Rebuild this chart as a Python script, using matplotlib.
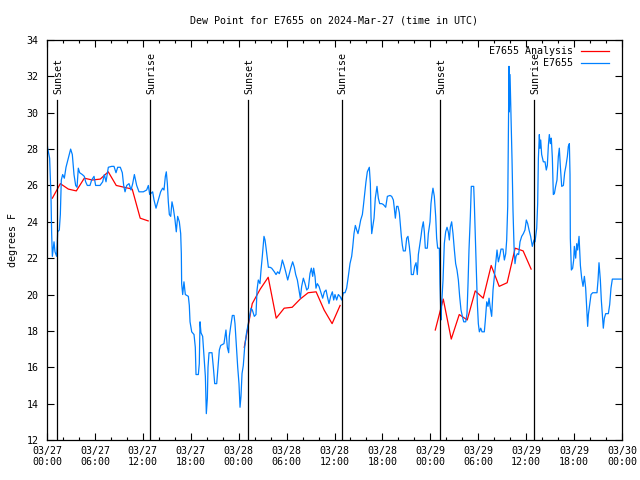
import matplotlib
matplotlib.use('Agg')
import matplotlib.pyplot as plt
from matplotlib.ticker import MultipleLocator

plt.rcParams['font.family'] = ['DejaVu Sans Mono']
plt.rcParams['font.size'] = 7.2

# hours since 2024-03-27 00:00 UTC
blue_t = [0.0, 0.08, 0.33, 0.50, 0.58, 0.67, 0.88, 1.00, 1.21, 1.34, 1.54, 1.67, 1.79, 1.96,
          2.17, 2.38, 2.67, 2.96, 3.17, 3.38, 3.59, 3.76, 3.92, 4.09, 4.42, 4.67, 4.84, 5.05,
          5.38, 5.59, 5.89, 6.09, 6.64, 6.97, 7.18, 7.39, 7.68, 8.10, 8.39, 8.64, 8.85, 9.18,
          9.43, 9.60, 9.77, 9.98, 10.27, 10.52, 10.73, 10.94, 11.23, 11.52, 12.06, 12.48, 12.69,
          12.86, 13.23, 13.40, 13.65, 13.94, 14.23, 14.48, 14.65, 14.82, 14.94, 15.07, 15.19,
          15.32, 15.49, 15.65, 15.82, 16.03, 16.19, 16.36, 16.57, 16.74, 16.82, 16.86, 16.99,
          17.15, 17.32, 17.70, 17.82, 17.91, 18.12, 18.41, 18.57, 18.66, 18.95, 19.07, 19.16,
          19.28, 19.49, 19.66, 19.83, 19.95, 20.08, 20.16, 20.29, 20.66, 20.83, 21.00, 21.25,
          21.41, 21.58, 21.75, 22.16, 22.41, 22.58, 22.75, 22.83, 23.00, 23.21, 23.42, 23.54,
          23.67, 23.88, 24.04, 24.17, 24.29, 24.42, 24.58, 24.75, 24.97, 25.29, 25.54, 25.71,
          25.96, 26.17, 26.30, 26.46, 26.67, 26.80, 26.96, 27.17, 27.30, 27.42, 27.55, 27.72,
          27.92, 28.13, 28.47, 28.68, 28.88, 29.09, 29.30, 29.47, 29.68, 29.89, 30.14, 30.34,
          30.55, 30.76, 30.97, 31.14, 31.35, 31.56, 31.72, 31.89, 32.10, 32.31, 32.52, 32.72,
          32.93, 33.10, 33.27, 33.39, 33.56, 33.68, 33.85, 34.06, 34.31, 34.52, 34.73, 34.94,
          35.10, 35.31, 35.52, 35.73, 35.90, 36.06, 36.27, 36.48, 36.69, 36.90, 37.11, 37.32,
          37.52, 37.73, 37.94, 38.15, 38.28, 38.44, 38.61, 38.78, 38.94, 39.11, 39.28, 39.49,
          39.61, 39.78, 39.94, 40.11, 40.36, 40.49, 40.57, 40.66, 40.78, 40.95, 41.11, 41.32,
          41.49, 41.66, 41.91, 42.12, 42.41, 42.62, 42.95, 43.16, 43.37, 43.49, 43.62, 43.78,
          43.95, 44.12, 44.24, 44.37, 44.50, 44.62, 44.87, 45.04, 45.20, 45.37, 45.50, 45.62,
          45.87, 46.04, 46.21, 46.37, 46.50, 46.67, 46.83, 46.96, 47.12, 47.25, 47.37, 47.62,
          47.75, 47.96, 48.08, 48.21, 48.33, 48.50, 48.67, 48.79, 48.92, 49.13, 49.21, 49.34,
          49.42, 49.59, 49.75, 49.92, 50.09, 50.25, 50.38, 50.50, 50.67, 50.84, 51.01, 51.17,
          51.34, 51.51, 51.67, 51.84, 52.01, 52.18, 52.43, 52.59, 52.72, 52.84, 53.01, 53.13,
          53.43, 53.51, 53.64, 53.76, 53.89, 54.01, 54.14, 54.31, 54.47, 54.76, 54.89, 55.06,
          55.22, 55.35, 55.51, 55.68, 55.85, 56.02, 56.18, 56.35, 56.52, 56.68, 56.85, 57.10,
          57.27, 57.44, 57.56, 57.69, 57.77, 57.85, 57.89, 57.98, 58.10, 58.23, 58.35, 58.48,
          58.60, 58.73, 58.90, 59.06, 59.23, 59.44, 59.65, 59.85, 60.02, 60.19, 60.36, 60.56,
          60.77, 60.98, 61.11, 61.32, 61.44, 61.53, 61.65, 61.73, 61.82, 61.94, 62.15, 62.36,
          62.52, 62.65, 62.78, 62.90, 63.03, 63.15, 63.28, 63.40, 63.53, 63.69, 63.86, 64.03,
          64.15, 64.28, 64.45, 64.66, 64.82, 64.99, 65.16, 65.28, 65.41, 65.49, 65.53, 65.66,
          65.82, 65.95, 66.03, 66.20, 66.33, 66.45, 66.62, 66.79, 66.95, 67.12, 67.29, 67.45,
          67.62, 67.70, 67.79, 67.95, 68.12, 68.33, 68.87, 69.00, 69.12, 69.29, 69.41, 69.58,
          69.66, 69.79, 69.96, 70.29, 70.46, 70.62, 70.79, 71.88]
blue_v = [28.4, 28.05, 27.5, 25.4, 23.4, 22.1, 22.9, 22.35, 22.1, 23.45, 23.55, 24.4, 26.3, 26.6,
          26.4, 27.0, 27.5, 28.0, 27.7, 26.6, 26.0, 25.9, 26.95, 26.7, 26.6, 26.5, 26.2, 26.0,
          26.0, 26.3, 26.5, 26.0, 26.0, 26.2, 26.6, 26.2, 27.0, 27.05, 27.05, 26.7, 27.0, 27.0,
          26.7, 26.0, 25.65, 26.0, 26.1, 25.75, 26.1, 26.6, 26.0, 25.65, 25.65, 25.75, 26.0,
          25.5, 25.65, 25.2, 24.75, 25.2, 25.65, 25.85, 25.75, 26.5, 26.75, 26.1, 25.1,
          24.4, 24.3, 25.1, 24.75, 24.1, 23.45, 24.3, 24.0, 23.35, 22.25, 20.6, 20.0,
          20.7, 20.0, 19.9, 19.4, 18.5, 17.95, 17.8, 17.1, 15.6, 15.6, 16.2, 18.5,
          17.9, 17.7, 16.6, 15.5, 13.45, 14.3, 16.0, 16.8, 16.8, 16.0, 15.1, 15.1,
          16.0, 16.95, 17.2, 17.3, 18.05, 17.1, 16.8, 17.7, 18.25, 18.85, 18.85, 18.4,
          17.5, 16.0, 15.1, 13.8, 14.4, 15.65, 16.1, 17.1, 17.85, 18.6, 19.25, 19.15,
          18.8, 18.9, 20.25, 20.8, 20.6, 21.35, 22.1, 23.2, 23.0, 22.6, 22.1, 21.5,
          21.5, 21.45, 21.25, 21.1, 21.25, 21.15, 21.5, 21.9, 21.6, 21.25, 20.8, 21.15,
          21.5, 21.8, 21.5, 21.1, 20.8, 20.25, 19.8, 20.45, 20.9, 20.6, 20.25, 20.35,
          21.15, 21.45, 21.0, 21.45, 21.0, 20.35, 20.6, 20.45, 20.1, 19.8, 20.15, 20.25,
          19.9, 19.5, 19.9, 20.15, 19.7, 20.0, 19.7, 20.0, 19.9, 19.7, 20.1, 20.1,
          20.35, 21.0, 21.7, 22.1, 22.6, 23.35, 23.8, 23.55, 23.35, 23.7, 24.1, 24.4,
          24.85, 25.55, 26.2, 26.75, 27.0, 26.1, 24.3, 23.35, 23.7, 24.2, 25.3, 25.95,
          25.3, 25.0, 25.0, 24.95, 24.8, 25.4, 25.45, 25.4, 25.2, 24.75, 24.2, 24.85,
          24.85, 24.5, 23.9, 23.2, 22.7, 22.4, 22.4, 23.1, 23.2, 22.65, 22.1, 21.1,
          21.1, 21.55, 21.75, 21.1, 22.2, 22.7, 23.2, 23.65, 24.0, 23.45, 22.55, 22.55,
          23.35, 24.0, 25.0, 25.5, 25.85, 25.4, 24.3, 23.1, 22.55, 22.55, 20.6, 18.6,
          19.5, 20.8, 22.8, 23.45, 23.7, 23.45, 23.0, 23.7, 24.0, 23.35, 22.45, 21.7,
          21.35, 20.8, 19.9, 19.15, 18.8, 18.5, 18.5, 18.95, 20.6, 22.45, 24.3, 25.95,
          25.95, 25.0, 23.2, 21.35, 19.5, 18.4, 17.95, 18.15, 17.95, 17.95, 18.6, 19.6,
          19.35, 19.8, 19.25, 18.8, 20.25, 21.0, 21.7, 22.45, 21.8, 22.1, 22.5, 22.5,
          21.9, 22.25, 23.0, 24.85, 28.7, 32.55, 30.05, 32.1, 29.8, 27.4, 24.65, 22.65,
          21.7, 22.1, 22.25, 22.2, 22.9, 23.2, 23.35, 23.55, 24.1, 23.9, 23.55, 23.2,
          22.65, 23.0, 22.9, 23.65, 25.0, 27.5, 28.8, 28.05, 28.5, 27.7, 27.3, 27.3,
          26.85, 27.1, 28.2, 28.8, 28.3, 28.6, 27.5, 25.5, 25.55, 25.95, 26.3, 27.6,
          28.05, 27.05, 25.95, 26.0, 26.7, 27.1, 27.6, 28.15, 28.3, 26.6, 23.1, 21.35,
          21.45, 21.9, 22.65, 22.0, 22.8, 22.45, 23.2, 21.6, 20.9, 20.45, 21.0, 20.35,
          18.95, 18.25, 18.9, 19.45, 20.0, 20.1, 20.1, 20.8, 21.75, 20.8, 19.7, 18.7,
          18.15, 18.7, 18.95, 18.95, 19.45, 20.35, 20.85, 20.85]

# analysis, hourly, three separate runs
red_t1 = [0.67, 1.67, 2.67, 3.67, 4.67, 5.67, 6.67, 7.67, 8.67, 9.67, 10.67, 11.67, 12.67]
red_v1 = [25.3, 26.1, 25.8, 25.7, 26.4, 26.3, 26.35, 26.75, 26.0, 25.9, 25.8, 24.2, 24.05]
red_t2 = [24.7, 25.7, 26.7, 27.7, 28.7, 29.7, 30.7, 31.7, 32.7, 33.7, 34.7, 35.7, 36.7]
red_v2 = [17.1, 19.5, 20.3, 20.95, 18.7, 19.25, 19.3, 19.75, 20.1, 20.15, 19.15, 18.4, 19.4]
red_t3 = [48.62, 49.62, 50.62, 51.62, 52.62, 53.62, 54.62, 55.62, 56.62, 57.62, 58.62, 59.62, 60.62]
red_v3 = [18.05, 19.75, 17.55, 18.9, 18.6, 20.2, 19.8, 21.6, 20.45, 20.65, 22.55, 22.4, 21.4]

sun_t = [1.28, 12.94, 25.2, 36.9, 49.23, 61.0]
sun_lbl = ['Sunset', 'Sunrise', 'Sunset', 'Sunrise', 'Sunset', 'Sunrise']

xtick_pos = [0, 6, 12, 18, 24, 30, 36, 42, 48, 54, 60, 66, 72]
xtick_lbl = ['03/27\n00:00', '03/27\n06:00', '03/27\n12:00', '03/27\n18:00',
             '03/28\n00:00', '03/28\n06:00', '03/28\n12:00', '03/28\n18:00',
             '03/29\n00:00', '03/29\n06:00', '03/29\n12:00', '03/29\n18:00',
             '03/30\n00:00']

fig = plt.figure(figsize=(6.4, 4.8), dpi=100)
ax = fig.add_axes([47 / 640, 40 / 480, 575 / 640, 400 / 480])

ax.plot(red_t1, red_v1, color='#ff0000', lw=0.9, label='E7655 Analysis')
ax.plot(red_t2, red_v2, color='#ff0000', lw=0.9)
ax.plot(red_t3, red_v3, color='#ff0000', lw=0.9)
ax.plot(blue_t, blue_v, color='#0080ff', lw=0.9, label='E7655')

for t, lbl in zip(sun_t, sun_lbl):
    ax.axvline(t, ymin=0, ymax=0.85, color='black', lw=0.9)
    ax.text(t + 0.12, 0.865, lbl, rotation=90, ha='center', va='bottom',
            transform=ax.get_xaxis_transform())

ax.set_xlim(0, 72)
ax.set_ylim(12, 34)
ax.set_xticks(xtick_pos)
ax.set_xticklabels(xtick_lbl)
ax.xaxis.set_minor_locator(MultipleLocator(2))
ax.yaxis.set_major_locator(MultipleLocator(2))
ax.tick_params(which='both', direction='in', top=True, right=True, width=0.8)
ax.tick_params(which='major', length=5)
ax.tick_params(axis='x', which='major', pad=4)
ax.tick_params(axis='y', which='major', pad=6)
ax.tick_params(which='minor', length=2.5)
for s in ax.spines.values():
    s.set_linewidth(0.9)

ax.set_ylabel('degrees F', labelpad=6)
ax.set_title('Dew Point for E7655 on 2024-Mar-27 (time in UTC)', fontsize=7.2, pad=12)

ax.legend(loc='upper right', bbox_to_anchor=(0.991, 1.005), frameon=False,
          markerfirst=False, handlelength=2.75, handletextpad=0.8,
          labelspacing=0.2, borderpad=0.3)

plt.savefig('out.png', dpi=100)
